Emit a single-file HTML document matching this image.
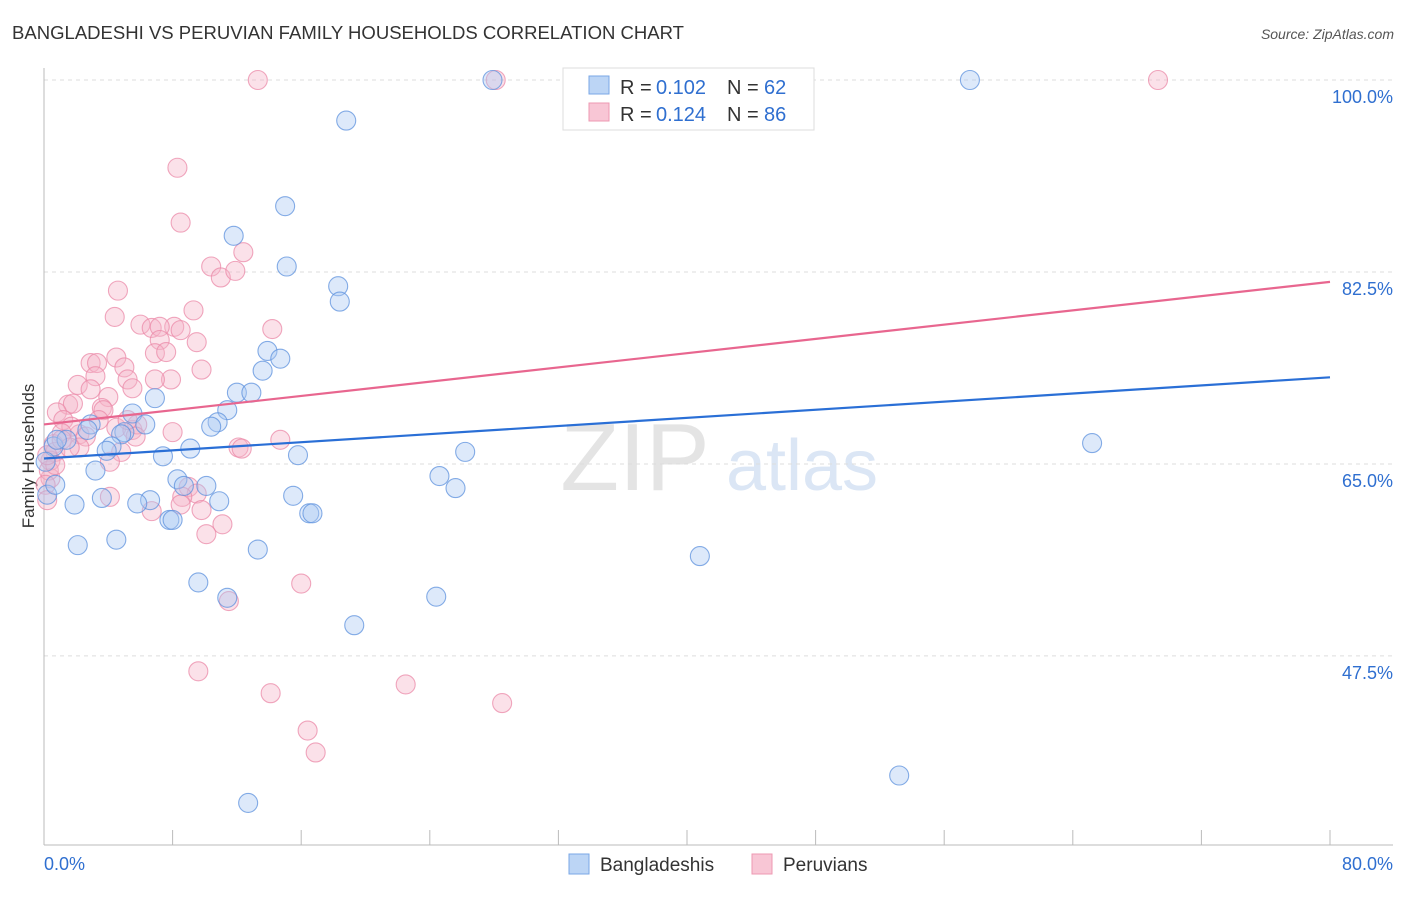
<!DOCTYPE html>
<html><head><meta charset="utf-8"><style>
body{margin:0;background:#fff;font-family:"Liberation Sans",sans-serif}
svg text{font-family:"Liberation Sans",sans-serif}
</style></head><body>
<svg id="c" width="1406" height="892" viewBox="0 0 1406 892" xmlns="http://www.w3.org/2000/svg">
<text x="12" y="39" font-size="18" fill="#333" textLength="672" lengthAdjust="spacingAndGlyphs">BANGLADESHI VS PERUVIAN FAMILY HOUSEHOLDS CORRELATION CHART</text>
<text x="1394" y="39" font-size="14" fill="#555" text-anchor="end" font-style="italic">Source: ZipAtlas.com</text>
<text transform="translate(34,456) rotate(-90)" font-size="17" fill="#333" text-anchor="middle">Family Households</text>
<g>
<text x="635" y="490" font-size="96" fill="#e4e4e4" text-anchor="middle" font-family="Liberation Serif, serif">ZIP</text>
<text x="802" y="490" font-size="72" fill="#dbe6f5" text-anchor="middle">atlas</text>
</g>
<g id="grid"></g><g id="pts"></g><g id="lines"></g>
<g>
<rect x="563" y="68" width="251" height="62" fill="#fff" stroke="#ddd"/>
<rect x="589" y="76" width="20" height="18" fill="#bcd5f5" stroke="#7aa7e6"/>
<text x="620" y="94" font-size="20" fill="#333">R =</text><text x="656" y="94" font-size="20" fill="#2f6fd0">0.102</text>
<text x="727" y="94" font-size="20" fill="#333">N =</text><text x="764" y="94" font-size="20" fill="#2f6fd0">62</text>
<rect x="589" y="103" width="20" height="18" fill="#f8c6d5" stroke="#ee98b2"/>
<text x="620" y="121" font-size="20" fill="#333">R =</text><text x="656" y="121" font-size="20" fill="#2f6fd0">0.124</text>
<text x="727" y="121" font-size="20" fill="#333">N =</text><text x="764" y="121" font-size="20" fill="#2f6fd0">86</text>
</g>
<g>
<rect x="569" y="854" width="20" height="20" fill="#bcd5f5" stroke="#7aa7e6"/>
<text x="600" y="871" font-size="19" fill="#333">Bangladeshis</text>
<rect x="752" y="854" width="20" height="20" fill="#f8c6d5" stroke="#ee98b2"/>
<text x="783" y="871" font-size="19" fill="#333">Peruvians</text>
</g>
<text x="44" y="870" font-size="18" fill="#2f6fd0">0.0%</text>
<text x="1393" y="870" font-size="18" fill="#2f6fd0" text-anchor="end">80.0%</text>
</svg>
<script>
const yTicks=[100,82.5,65,47.5];
const yTickLabels=["100.0%","82.5%","65.0%","47.5%"];
const xTicks=[0,8,16,24,32,40,48,56,64,72,80];
const blueX=[27.9,57.6,18.8,15.0,11.8,15.1,18.3,18.4,13.9,14.7,13.6,12.0,12.9,6.9,11.4,5.5,10.8,10.4,2.9,5.0,4.8,6.3,0.6,1.4,4.2,3.9,9.1,7.4,15.8,26.2,65.2,3.2,8.3,24.6,25.6,10.1,8.7,3.6,6.6,5.8,10.9,15.5,1.9,16.5,16.7,7.8,8.0,4.5,2.1,13.3,40.8,9.6,11.4,24.4,19.3,53.2,12.7,0.2,0.7,0.1,0.8,2.7];
const blueY=[100,100,96.3,88.5,85.8,83.0,81.2,79.8,75.3,74.6,73.5,71.5,71.5,71.0,69.9,69.6,68.8,68.4,68.6,67.9,67.7,68.6,66.6,67.2,66.6,66.2,66.4,65.7,65.8,66.1,66.9,64.4,63.6,63.9,62.8,63.0,63.0,61.9,61.7,61.4,61.6,62.1,61.3,60.5,60.5,59.9,59.9,58.1,57.6,57.2,56.6,54.2,52.8,52.9,50.3,36.6,34.1,62.2,63.1,65.2,67.2,68.1];
const pinkX=[13.3,28.1,69.3,8.3,8.5,12.4,10.4,11.0,11.9,4.6,9.3,4.4,6.0,6.7,8.1,7.2,14.2,9.5,7.2,6.9,7.6,2.9,3.3,4.5,5.0,3.2,9.8,5.2,7.9,6.9,5.5,2.1,2.9,4.0,3.6,1.5,1.8,3.7,0.8,1.2,3.4,2.2,1.7,4.5,5.5,5.8,8.0,5.7,1.1,2.6,0.6,2.2,0.7,0.4,4.8,4.1,12.1,12.3,14.7,9.0,9.5,8.6,4.1,6.7,8.5,9.8,11.1,10.1,11.5,16.0,9.6,14.1,22.5,28.5,16.4,16.9,0.4,0.3,0.1,0.7,0.2,1.1,8.5,5.2,1.6,0.2];
const pinkY=[100,100,100,92.0,87.0,84.3,83.0,82.0,82.6,80.8,79.0,78.4,77.7,77.4,77.5,77.5,77.3,76.1,76.3,75.1,75.2,74.2,74.2,74.7,73.8,73.0,73.6,72.7,72.7,72.7,71.9,72.2,71.8,71.1,70.1,70.4,70.5,69.9,69.7,69.0,69.0,67.7,68.4,68.3,68.1,68.6,67.9,67.5,67.8,67.5,66.8,66.5,66.1,65.3,66.1,65.2,66.5,66.4,67.2,62.9,62.3,62.0,62.0,60.7,61.3,60.8,59.5,58.6,52.5,54.1,46.1,44.1,44.9,43.2,40.7,38.7,63.7,64.4,63.1,64.9,65.8,67.2,77.2,69.0,66.5,61.7];
const blueTrend=[65.5,72.9];
const pinkTrend=[68.6,81.6];
const sx=v=>44+v*16.075, sy=v=>80+(100-v)*10.97;
const NS="http://www.w3.org/2000/svg";
function mk(t,a,p){const e=document.createElementNS(NS,t);for(const k in a)e.setAttribute(k,a[k]);p.appendChild(e);return e;}
const g=document.getElementById('grid');
yTicks.forEach((v,i)=>{
 const l=mk('line',{x1:44,x2:1393,y1:sy(v),y2:sy(v),stroke:'#ddd','stroke-dasharray':'4,4'},g);
 
 
 const t=mk('text',{x:1393,y:sy(v)+23,'font-size':18,fill:'#2f6fd0','text-anchor':'end'},g);
 t.textContent=yTickLabels[i];
 
 
});
const ax=mk('line',{x1:44,x2:1393,y1:845,y2:845,stroke:'#bbb'},g);


const ay=mk('line',{x1:44,x2:44,y1:68,y2:845,stroke:'#bbb'},g);


xTicks.forEach(v=>{
 const t=mk('line',{x1:sx(v),x2:sx(v),y1:830,y2:845,stroke:'#bbb'},g);
 
 
});
const p=document.getElementById('pts');
function pts(X,Y,fill,stroke,name){X.forEach((x,i)=>{
 const c=mk('circle',{cx:sx(x),cy:sy(Y[i]),r:9.5,fill:fill,'fill-opacity':0.4,stroke:stroke,'stroke-width':1.1,'stroke-opacity':0.75},p);
 
 
});}
pts(pinkX,pinkY,'#f6b4c8','#eb8aa8','peruvian-point');
pts(blueX,blueY,'#a9c8f2','#5d92dd','bangladeshi-point');
const L=document.getElementById('lines');
const b=mk('line',{x1:sx(0),x2:sx(80),y1:sy(blueTrend[0]),y2:sy(blueTrend[1]),stroke:'#2a6fd6','stroke-width':2.2},L);


const q=mk('line',{x1:sx(0),x2:sx(80),y1:sy(pinkTrend[0]),y2:sy(pinkTrend[1]),stroke:'#e8668f','stroke-width':2.2},L);


</script>
</body></html>
